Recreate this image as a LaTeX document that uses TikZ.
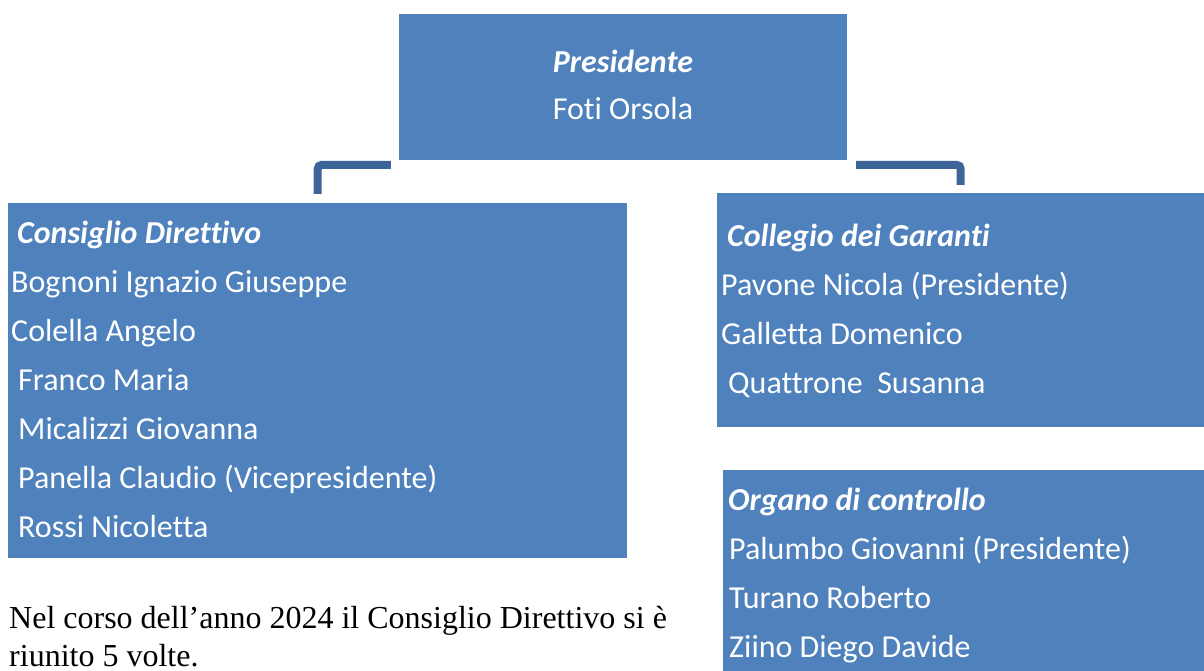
\documentclass[tikz,border=0pt]{standalone}
\usepackage{fontspec}
\setmainfont{Carlito}[Ligatures=NoCommon]
\newfontfamily\timesfont{Liberation Serif}
\usetikzlibrary{backgrounds}
\definecolor{boxblue}{HTML}{4F81BD}
\definecolor{linkblue}{HTML}{3C6496}

\begin{document}
\begin{tikzpicture}[x=1pt,y=1pt]
   \tikzstyle{box}=[rectangle, fill=boxblue, anchor=north west, inner sep=0pt]
   \tikzstyle{member}=[anchor=base west, text=white, inner sep=0pt, font=\fontsize{32}{38}\selectfont]
   \tikzstyle{title}=[member, font=\fontsize{32}{38}\selectfont\bfseries\itshape]
   \tikzstyle{link}=[draw=linkblue, line width=8pt, rounded corners=4pt]
   \tikzstyle{note}=[anchor=base west, inner sep=0pt, font=\timesfont\fontsize{32}{38}\selectfont]

\useasboundingbox (0,0) rectangle (1204,-671);

\node[box, minimum width=448pt, minimum height=146pt,
      preaction={draw=white, line width=17pt, rounded corners=4pt}] (pres) at (399,-14) {};
\node[title, anchor=base] (prestitle) at (623,-73) {Presidente};
\node[member, anchor=base] (presname) at (623,-120) {Foti Orsola};

\node[box, minimum width=619pt, minimum height=355pt] (cons) at (8,-203) {};
\node[title] (constitle) at (17,-243) {Consiglio Direttivo};
\node[member] (cons1) at (11,-292) {Bognoni Ignazio Giuseppe};
\node[member] (cons2) at (11,-341) {Colella Angelo};
\node[member] (cons3) at (18,-390) {Franco Maria};
\node[member] (cons4) at (18,-439) {Micalizzi Giovanna};
\node[member] (cons5) at (18,-488) {Panella Claudio (Vicepresidente)};
\node[member] (cons6) at (18,-537) {Rossi Nicoletta};

\node[box, minimum width=487pt, minimum height=234pt] (coll) at (717,-193) {};
\node[title] (colltitle) at (727,-246) {Collegio dei Garanti};
\node[member] (coll1) at (721,-295) {Pavone Nicola (Presidente)};
\node[member] (coll2) at (721,-344) {Galletta Domenico};
\node[member] (coll3) at (728,-393) {Quattrone\ \ Susanna};

\node[box, minimum width=481pt, minimum height=201pt] (org) at (723,-470) {};
\node[title] (orgtitle) at (728,-510) {Organo di controllo};
\node[member] (org1) at (729,-559) {Palumbo Giovanni (Presidente)};
\node[member] (org2) at (729,-608) {Turano Roberto};
\node[member] (org3) at (729,-657) {Ziino Diego Davide};

\node[note] (note1) at (9,-628) {Nel corso dell’anno 2024 il Consiglio Direttivo si è};
\node[note] (note2) at (9,-666) {riunito 5 volte.};

\begin{scope}[on background layer]
\draw[link] (pres.south) ++(0,-4.5) -| ([yshift=9pt]cons.north);
\draw[link] (pres.south) ++(0,-4.5) -| ([yshift=8pt]coll.north);
\end{scope}

\end{tikzpicture}
\end{document}
